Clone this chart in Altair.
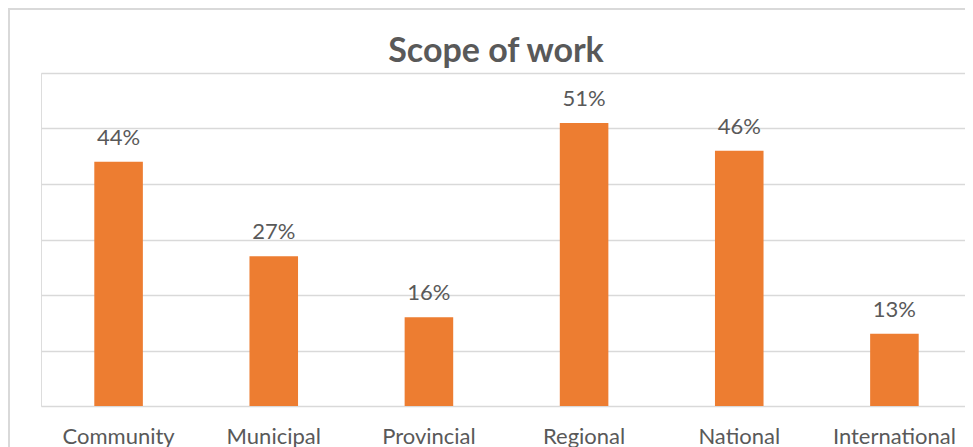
import altair as alt
import pandas as pd

categories = ["Community", "Municipal", "Provincial", "Regional", "National", "International"]
values = [44, 27, 16, 51, 46, 13]
labels = ["44%", "27%", "16%", "51%", "46%", "13%"]
y_ticks = [0, 10, 20, 30, 40, 50, 60]
chart_title = "Scope of work"

df = pd.DataFrame({"scope": categories, "value": values, "label": labels})

FONT = "Lato"
TEXT_COLOR = "#595959"
BAR_COLOR = "#ED7D31"
GRID_COLOR = "#D9D9D9"

x_enc = alt.X(
    "scope:N",
    sort=categories,
    title=None,
    scale=alt.Scale(paddingInner=0.687, paddingOuter=0.3435),
    axis=alt.Axis(
        labelAngle=0,
        labelFont=FONT,
        labelFontSize=22,
        labelColor=TEXT_COLOR,
        labelPadding=20,
        ticks=False,
        domain=False,
        grid=False,
    ),
)
y_enc = alt.Y(
    "value:Q",
    title=None,
    scale=alt.Scale(domain=[0, 60], nice=False),
    axis=alt.Axis(
        values=y_ticks,
        labels=False,
        ticks=False,
        domain=False,
        grid=True,
        gridColor=GRID_COLOR,
        gridWidth=1.5,
    ),
)

bars = alt.Chart(df).mark_bar(color=BAR_COLOR).encode(x=x_enc, y=y_enc)

text = alt.Chart(df).mark_text(
    font=FONT, fontSize=22, color=TEXT_COLOR, baseline="alphabetic", dy=-17
).encode(x=alt.X("scope:N", sort=categories), y="value:Q", text="label:N")

# chart title, drawn as text so the decorative frame does not push it away
title_mark = alt.Chart(pd.DataFrame({"t": [chart_title]})).mark_text(
    font=FONT, fontSize=34, fontWeight="bold", color=TEXT_COLOR,
    baseline="alphabetic", align="center",
).encode(text="t:N", x=alt.value(455), y=alt.value(-11.5))

# chart frame (decorative border)
frame_top = alt.Chart(df).mark_rule(color=GRID_COLOR, strokeWidth=2).encode(
    x=alt.value(-33), x2=alt.value(940), y=alt.value(-64)
)
frame_left = alt.Chart(df).mark_rule(color=GRID_COLOR, strokeWidth=2).encode(
    x=alt.value(-32), y=alt.value(-65), y2=alt.value(380)
)

chart = (
    alt.layer(frame_top, frame_left, bars, text, title_mark)
    .properties(
        width=931,
        height=333,
        autosize=alt.AutoSizeParams(type="none"),
        padding={"left": 33, "top": 65, "right": -7, "bottom": 41},
    )
    .configure_view(stroke=None)
    .configure(background="white")
)

chart.save("out.html", embed_options={"renderer": "svg", "actions": False})
